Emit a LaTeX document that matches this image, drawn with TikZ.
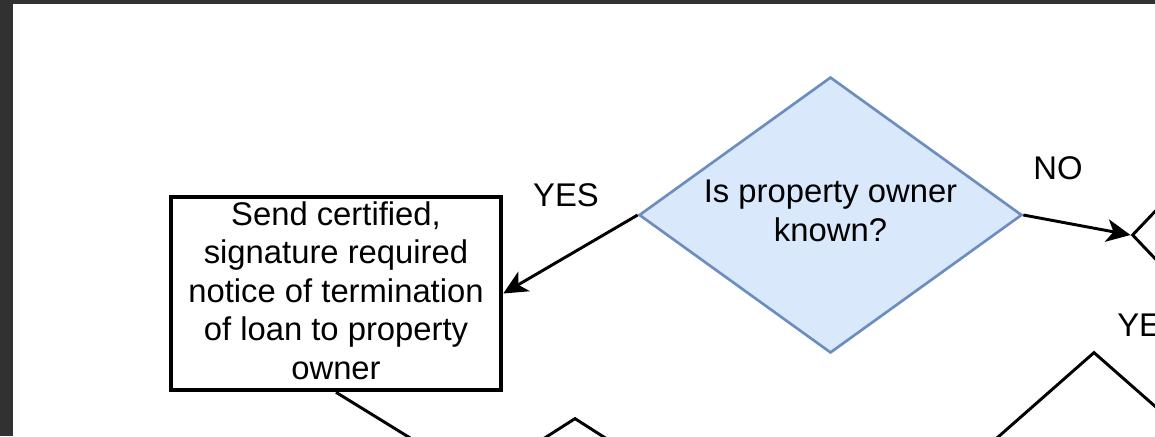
\documentclass[tikz,border=0pt]{standalone}
\usepackage{fontspec}
\setmainfont{Liberation Sans}
\usetikzlibrary{shapes.geometric,arrows.meta}
\definecolor{framecol}{HTML}{313131}
\definecolor{dfill}{HTML}{DAE8FC}
\definecolor{dline}{HTML}{6C8EBF}
\begin{document}
\begin{tikzpicture}[x=0.75pt,y=-0.75pt,
  lbl/.style={font=\fontsize{24.6}{28.9}\selectfont, inner sep=0pt},
  conn/.style={line width=2.2pt, -{Stealth[length=18pt,width=17pt,inset=5pt]}},
  plain/.style={line width=2.2pt},
  decision/.style={diamond, draw=dline, fill=dfill, line width=2pt, inner sep=0pt},
  odiam/.style={diamond, draw=black, line width=2.2pt, inner sep=0pt},
  procbox/.style={rectangle, draw=black, line width=3.4pt, fill=white, inner sep=0pt}]
\useasboundingbox (0,0) rectangle (1155,436);
\clip (0,0) rectangle (1155,436);
\fill[framecol] (0,0) rectangle (1155,436);
\fill[white] (13,4) rectangle (1155,436);

% decision
\node[decision, minimum width=287.25pt, minimum height=207pt] (d) at (830.5,215) {};
\node[lbl, align=center] (dtext) at (830.5,211) {Is property owner\\known?};

% process box
\node[procbox, minimum width=247.5pt, minimum height=144.75pt] (box) at (336,293.5) {};
\node[lbl, align=center, font=\fontsize{24.6}{28.8}\selectfont] (boxtext) at (336,290.5)
  {Send certified,\\signature required\\notice of termination\\of loan to property\\owner};

% partial shapes at the edges
\node[odiam, minimum width=150pt, minimum height=157.5pt] (r) at (1232,235) {};
\node[odiam, minimum width=300pt, minimum height=264pt] (br) at (1094,528) {};
\node[odiam, minimum width=225pt, minimum height=144pt] (bs) at (575,514) {};
\coordinate (c1) at (480,481);

% connectors
\draw[conn] (d.west) -- (box.east);
\draw[conn] (d.east) -- (r.west);
\draw[plain] (box.south) -- (c1);

% labels
\node[lbl] (yes) at (566,195) {YES};
\node[lbl] (no) at (1058,168) {NO};
\node[lbl, anchor=west] (yes2) at (1117,325) {YES};
\end{tikzpicture}
\end{document}
